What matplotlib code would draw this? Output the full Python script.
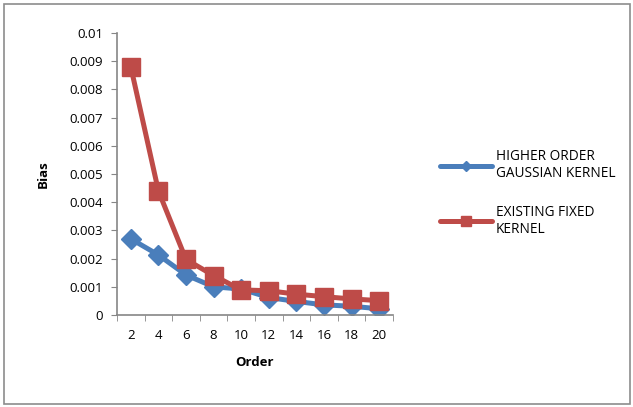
import numpy as np
import matplotlib
matplotlib.use("Agg")
import matplotlib.pyplot as plt
from matplotlib.patches import Rectangle

# Bias against kernel order
orders = [2, 4, 6, 8, 10, 12, 14, 16, 18, 20]
gaussian_bias = [0.00270, 0.00213, 0.00142, 0.00100, 0.00092, 0.00062, 0.00048, 0.00036, 0.00031, 0.00022]
fixed_bias = [0.00880, 0.00440, 0.00197, 0.00140, 0.00089, 0.00086, 0.00074, 0.00065, 0.00057, 0.00051]
y_ticks = [0, 0.001, 0.002, 0.003, 0.004, 0.005, 0.006, 0.007, 0.008, 0.009, 0.01]
y_labels = ["0", "0.001", "0.002", "0.003", "0.004", "0.005", "0.006", "0.007", "0.008", "0.009", "0.01"]

plt.rcParams['font.family'] = ['Open Sans', 'DejaVu Sans']

W, H = 633, 407
fig = plt.figure(figsize=(W / 100, H / 100), dpi=100)

# chart area border
fig.patches.append(Rectangle((4 / W, 3 / H), 626 / W, 400 / H, transform=fig.transFigure,
                             fill=False, edgecolor='#8c8c8c', linewidth=1.2))

ax = fig.add_axes([117 / W, 1 - 315 / H, 276 / W, 282 / H])
x = np.arange(len(orders))

blue = '#4a7ebb'
red = '#be4b48'
ax.plot(x, gaussian_bias, color=blue, linewidth=3.6, marker='D', markersize=10,
        markerfacecolor=blue, markeredgecolor=blue, label='HIGHER ORDER\nGAUSSIAN KERNEL',
        solid_capstyle='round')
ax.plot(x, fixed_bias, color=red, linewidth=3.6, marker='s', markersize=13,
        markerfacecolor=red, markeredgecolor=red, label='EXISTING FIXED\nKERNEL',
        solid_capstyle='round')

ax.set_xlim(-0.5, len(orders) - 0.5)
ax.set_ylim(0, 0.01)
ax.set_yticks(y_ticks)
ax.set_yticklabels(y_labels)
ax.set_xticks(x)
ax.set_xticklabels([str(o) for o in orders])
ax.set_xticks(np.arange(-0.5, len(orders), 1), minor=True)
ax.tick_params(axis='x', which='major', length=0, pad=10, labelsize=9.5)
ax.tick_params(axis='x', which='minor', length=4, color='#868686', direction='out')
ax.tick_params(axis='y', length=4, color='#868686', labelsize=9.5, pad=6)

for side in ['top', 'right']:
    ax.spines[side].set_visible(False)
for side in ['left', 'bottom']:
    ax.spines[side].set_color('#868686')
    ax.spines[side].set_linewidth(1.2)

ax.set_xlabel('Order', fontweight='bold', fontsize=9.5, labelpad=10)
ax.set_ylabel('Bias', fontweight='bold', fontsize=9.5, labelpad=14)

fig.legend(loc='upper left', bbox_to_anchor=(428 / W, 1 - 137 / H), frameon=False,
           fontsize=9.8, handlelength=3.8, labelspacing=1.7, handletextpad=0.3,
           markerscale=0.5)

fig.savefig('out.png', dpi=100)
